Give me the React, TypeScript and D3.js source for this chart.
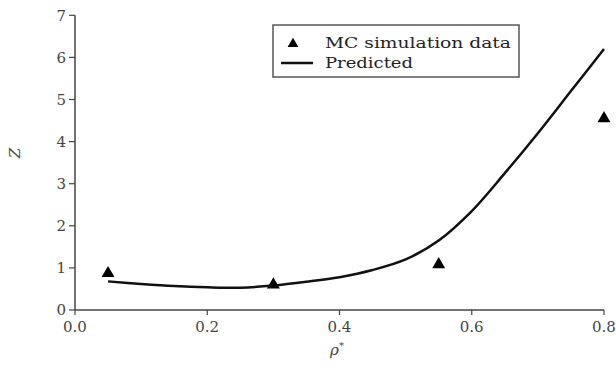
import React from "react";
import * as d3 from "d3";

const mcX = [0.05, 0.3, 0.55, 0.8];
const mcZ = [0.87, 0.6, 1.08, 4.55];
const predX = [0.05, 0.1, 0.15, 0.2, 0.25, 0.3, 0.35, 0.4, 0.45, 0.5, 0.55, 0.6, 0.65, 0.7, 0.75, 0.8];
const predZ = [0.68, 0.62, 0.57, 0.54, 0.53, 0.58, 0.67, 0.78, 0.95, 1.2, 1.65, 2.35, 3.25, 4.2, 5.2, 6.2];
const xTicks = [0, 0.2, 0.4, 0.6, 0.8];
const yTicks = [0, 1, 2, 3, 4, 5, 6, 7];

const W = 616, H = 375;
const FONT = "'DejaVu Serif', 'Liberation Serif', serif";

export default function App() {
  const x = d3.scaleLinear().domain([0, 0.8]).range([75, 604]);
  const y = d3.scaleLinear().domain([0, 7]).range([310, 15.3]);
  const line = d3.line<number>().x((_, i) => x(predX[i])).y((d) => y(d)).curve(d3.curveCatmullRom.alpha(0.5));
  const tri = d3.symbol().type(d3.symbolTriangle).size(72)();
  const axisColor = "#444";
  const textColor = "#444";
  return (
    <svg width={W} height={H} style={{ position: "absolute", left: 0, top: 0, background: "#fff" }}>
      <line x1={x(0)} x2={x(0)} y1={y(0)} y2={y(7)} stroke={axisColor} strokeWidth={1.5} />
      <line x1={x(0)} x2={x(0.8)} y1={y(0)} y2={y(0)} stroke={axisColor} strokeWidth={1.5} />
      {yTicks.map((t) => (
        <g key={"y" + t}>
          <line x1={x(0) - 6} x2={x(0)} y1={y(t)} y2={y(t)} stroke={axisColor} strokeWidth={1.2} />
          <text x={x(0) - 9} y={y(t)} dy="0.35em" textAnchor="end" fontFamily={FONT} fontSize={15} fill={textColor}>
            {t}
          </text>
        </g>
      ))}
      {xTicks.map((t) => (
        <g key={"x" + t}>
          <line x1={x(t)} x2={x(t)} y1={y(0)} y2={y(0) + 5} stroke={axisColor} strokeWidth={1.2} />
          <text x={x(t)} y={y(0) + 22} textAnchor="middle" fontFamily={FONT} fontSize={15} fill={textColor}>
            {t.toFixed(1)}
          </text>
        </g>
      ))}
      <text transform={`translate(20,153) rotate(-90)`} textAnchor="middle" fontFamily={FONT} fontStyle="italic" fontSize={15} fill={textColor}>
        Z
      </text>
      <text x={337} y={355} textAnchor="middle" fontFamily={FONT} fontStyle="italic" fontSize={15} fill={textColor}>
        ρ<tspan dy="-6" fontSize={10} fontStyle="normal">*</tspan>
      </text>
      <path d={line(predZ) || ""} fill="none" stroke="#111" strokeWidth={2.5} />
      {mcX.map((v, i) => (
        <path key={"m" + i} d={tri || ""} transform={`translate(${x(v)},${y(mcZ[i])})`} fill="#000" />
      ))}
      <rect x={273} y={25} width={246} height={52} fill="#fff" stroke="#555" strokeWidth={1.5} />
      <path d={d3.symbol().type(d3.symbolTriangle).size(50)() || ""} transform="translate(293,44)" fill="#000" />
      <text x={325} y={48} fontFamily={FONT} fontSize={15} fill="#222" textLength={186} lengthAdjust="spacingAndGlyphs">
        MC simulation data
      </text>
      <line x1={281} x2={313} y1={63} y2={63} stroke="#111" strokeWidth={2.5} />
      <text x={325} y={68} fontFamily={FONT} fontSize={15} fill="#222" textLength={88} lengthAdjust="spacingAndGlyphs">
        Predicted
      </text>
    </svg>
  );
}
